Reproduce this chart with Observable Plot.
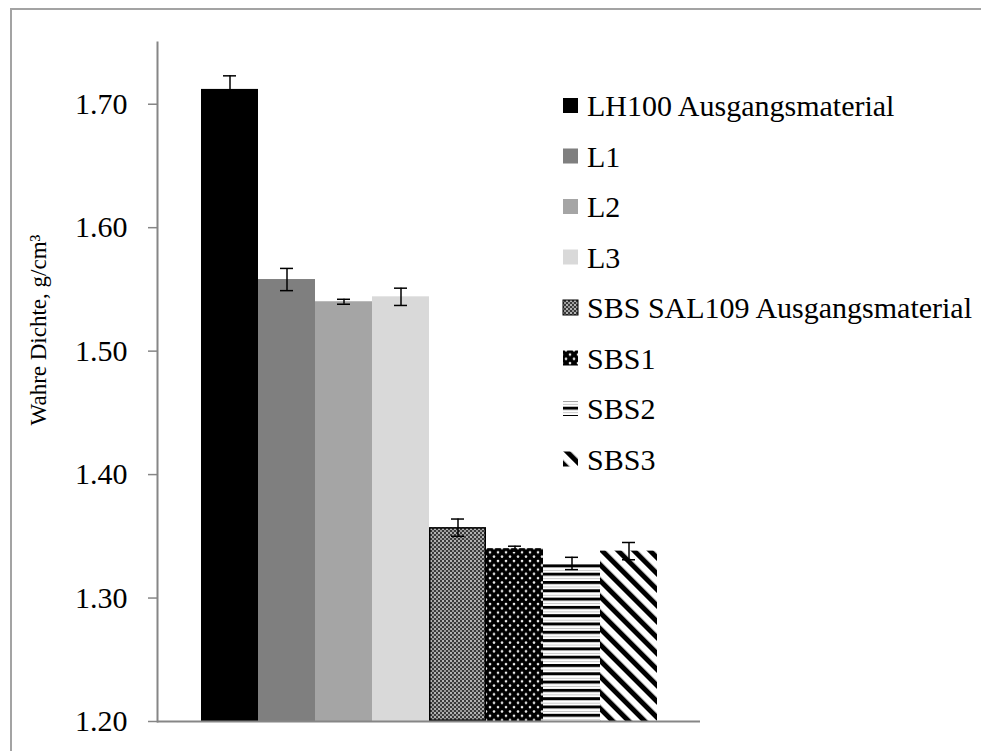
<!DOCTYPE html>
<html>
<head>
<meta charset="utf-8">
<script src="https://cdn.jsdelivr.net/npm/d3@7"></script>
<script src="https://cdn.jsdelivr.net/npm/@observablehq/plot@0.6"></script>
<style>
  html, body { margin: 0; padding: 0; background: #fff; }
  #chart { position: relative; width: 981px; height: 751px; overflow: hidden; }
  #chart svg { display: block; font-family: "Liberation Serif", serif; }
</style>
</head>
<body>
<div id="chart"></div>
<script>
// ---- data ----
const series = ["LH100 Ausgangsmaterial", "L1", "L2", "L3", "SBS SAL109 Ausgangsmaterial", "SBS1", "SBS2", "SBS3"];
const values = [1.712, 1.558, 1.540, 1.544, 1.357, 1.340, 1.328, 1.338];
const errors = [0.011, 0.009, 0.002, 0.007, 0.007, 0.002, 0.005, 0.007];
const yTicks = [1.20, 1.30, 1.40, 1.50, 1.60, 1.70];
const yDomain = [1.20, 1.75];
const yTitle = "Wahre Dichte, g/cm³";

// ---- styles ----
const fills = ["#000000", "#7f7f7f", "#a5a5a5", "#d9d9d9", "url(#p-sal)", "url(#p-dots)", "url(#p-hstripe)", "url(#p-diag)"];
const outlined = ["SBS SAL109 Ausgangsmaterial"];
const serif = "Liberation Serif";

const rows = series.map((name, i) => ({name, value: values[i], err: errors[i]}));
const yMin = yDomain[0];

const chart = Plot.plot({
  width: 981,
  height: 751,
  marginLeft: 157,
  marginRight: 281,
  marginTop: 42,
  marginBottom: 30,
  style: {fontFamily: serif, background: "white", color: "black"},
  x: {domain: series, paddingInner: 0, paddingOuter: 0.755, axis: null},
  y: {domain: yDomain, axis: null},
  color: {domain: series, range: fills},
  marks: [
    Plot.barY(rows, {x: "name", y1: () => yMin, y2: "value", fill: "name"}),
    Plot.barY(rows.filter(d => outlined.includes(d.name)), {x: "name", y1: () => yMin, y2: "value", fill: "none", stroke: "black", strokeWidth: 1.5, inset: 0.75}),
    Plot.ruleX(rows, {x: "name", y1: d => d.value - d.err, y2: d => d.value + d.err, stroke: "black", strokeWidth: 1.5}),
    Plot.tickY(rows, {x: "name", y: d => d.value - d.err, stroke: "black", strokeWidth: 1.5, insetLeft: 22, insetRight: 22}),
    Plot.tickY(rows, {x: "name", y: d => d.value + d.err, stroke: "black", strokeWidth: 1.5, insetLeft: 22, insetRight: 22}),
    Plot.ruleY([yMin], {stroke: "#868686", strokeWidth: 2}),
    Plot.frame({anchor: "left", stroke: "#868686", strokeWidth: 2}),
    Plot.axisY(yTicks, {label: null, tickFormat: d => d.toFixed(2), tickSize: 9, tickPadding: 21, fontSize: 30, fontFamily: serif, fontVariant: "normal", stroke: "#868686", strokeWidth: 1.5, fill: "black"}),
    Plot.text([yTitle], {text: d => d, frameAnchor: "left", textAnchor: "middle", rotate: -90, dx: -119, dy: -52, fontSize: 23, fontFamily: serif, fill: "black"})
  ]
});

document.getElementById("chart").appendChild(chart);

// ---- patterns ----
const svg = d3.select(chart);
const defs = svg.insert("defs", ":first-child");

// SBS SAL109: fine checker
const pSal = defs.append("pattern").attr("id", "p-sal").attr("patternUnits", "userSpaceOnUse").attr("width", 4).attr("height", 4);
pSal.append("rect").attr("width", 4).attr("height", 4).attr("fill", "#9a9a9a");
pSal.append("rect").attr("x", 0).attr("y", 0).attr("width", 2).attr("height", 2).attr("fill", "#3a3a3a");
pSal.append("rect").attr("x", 2).attr("y", 2).attr("width", 2).attr("height", 2).attr("fill", "#3a3a3a");
pSal.append("rect").attr("x", 2.5).attr("y", 0.5).attr("width", 1).attr("height", 1).attr("fill", "#ffffff");

// SBS1: black with white staggered dots
const pDots = defs.append("pattern").attr("id", "p-dots").attr("patternUnits", "userSpaceOnUse").attr("width", 8).attr("height", 8.6);
pDots.append("rect").attr("width", 8).attr("height", 8.6).attr("fill", "#000");
pDots.append("circle").attr("cx", 2).attr("cy", 2).attr("r", 1.3).attr("fill", "#eee");
pDots.append("circle").attr("cx", 6).attr("cy", 6.3).attr("r", 1.3).attr("fill", "#eee");

// SBS2: horizontal stripes
const pH = defs.append("pattern").attr("id", "p-hstripe").attr("patternUnits", "userSpaceOnUse").attr("width", 8).attr("height", 8.3);
pH.append("rect").attr("width", 8).attr("height", 8.3).attr("fill", "#fff");
pH.append("rect").attr("y", 0).attr("width", 8).attr("height", 3).attr("fill", "#000");
pH.append("rect").attr("y", 5.5).attr("width", 8).attr("height", 0.8).attr("fill", "#bbb");

// SBS3: diagonal stripes "\"
const pD = defs.append("pattern").attr("id", "p-diag").attr("patternUnits", "userSpaceOnUse").attr("width", 11.3).attr("height", 11.3).attr("patternTransform", "rotate(-45)");
pD.append("rect").attr("width", 11.3).attr("height", 11.3).attr("fill", "#fff");
pD.append("rect").attr("x", 0).attr("width", 5).attr("height", 11.3).attr("fill", "#000");

// ---- outer border ----
svg.append("rect").attr("x", 11).attr("y", 9).attr("width", 2000).attr("height", 2000)
  .attr("fill", "none").attr("stroke", "#a3a3a3").attr("stroke-width", 2);

// ---- legend ----
const legend = svg.append("g").attr("class", "legend").attr("text-anchor", "start");
const legX = 563, legY0 = 105.5, legStep = 50.5, sw = 15;
series.forEach((name, i) => {
  const cy = legY0 + i * legStep;
  const g = legend.append("g");
  g.append("rect").attr("x", legX).attr("y", cy - sw / 2).attr("width", sw).attr("height", sw)
    .attr("fill", fills[i])
    .attr("stroke", outlined.includes(name) ? "black" : "none").attr("stroke-width", 1);
  g.append("text").attr("x", legX + 24).attr("y", cy).attr("dy", "0.35em")
    .attr("text-anchor", "start")
    .attr("font-family", serif).attr("font-size", 30).attr("fill", "black")
    .text(name);
});
</script>
</body>
</html>
